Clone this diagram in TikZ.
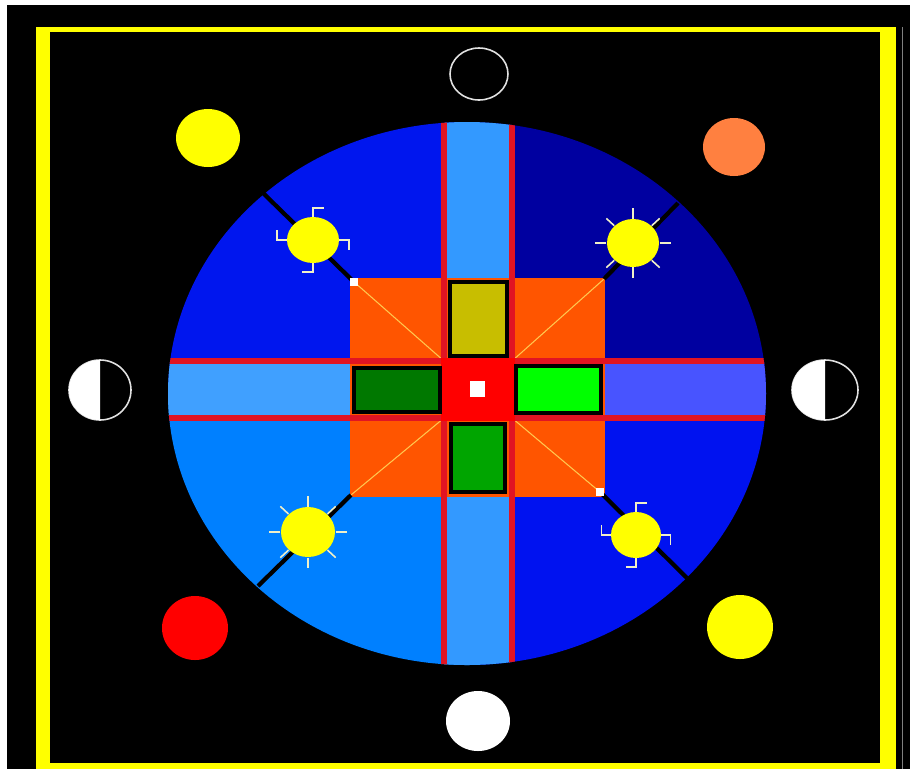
\documentclass[tikz,border=0pt]{standalone}
\usepackage{xcolor}
\usepackage{tikz}

\definecolor{frameyellow}{RGB}{255,255,0}
\definecolor{quadtl}{RGB}{0,22,238}
\definecolor{quadtr}{RGB}{0,0,160}
\definecolor{quadbl}{RGB}{0,128,255}
\definecolor{quadbr}{RGB}{0,18,240}
\definecolor{bandv}{RGB}{51,153,255}
\definecolor{bandl}{RGB}{64,160,255}
\definecolor{bandr}{RGB}{72,84,255}
\definecolor{crossred}{RGB}{225,20,35}
\definecolor{centrered}{RGB}{255,0,0}
\definecolor{tileorange}{RGB}{255,85,0}
\definecolor{rayorange}{RGB}{255,200,80}
\definecolor{tileolive}{RGB}{200,190,0}
\definecolor{leafdark}{RGB}{0,120,0}
\definecolor{leafbright}{RGB}{0,255,0}
\definecolor{leafmid}{RGB}{0,165,0}
\definecolor{sunline}{RGB}{240,240,200}
\definecolor{planetorange}{RGB}{255,128,64}
\definecolor{moonline}{RGB}{225,225,225}

\begin{document}
\begin{tikzpicture}[
    x=0.02cm,
    y=-0.02cm,
    cross/.style={
        draw=crossred,
        line width=3.4pt
    },
    ray/.style={
        draw=rayorange,
        line width=0.6pt
    },
    spoke/.style={
        draw=black,
        line width=2.4pt
    },
    panel/.style={
        draw=black,
        line width=2pt
    },
    sunmark/.style={
        draw=sunline,
        line width=0.9pt
    },
    moon/.style={
        draw=moonline,
        fill=black,
        line width=0.9pt
    },
    hooksun/.pic={
        \fill[frameyellow] (0,0) circle (1);
        \foreach \a in {0,90,180,270}
            \draw[sunmark, rotate=\a] (0,-1) -- (0,-1.38) -- (0.42,-1.38);
    },
    raysun/.pic={
        \fill[frameyellow] (0,0) circle (1);
        \foreach \a in {0,45,...,315}
            \draw[sunmark, rotate=\a] (0,-1.02) -- (0,-1.45);
    }
]

\useasboundingbox (0,0) rectangle (910,769);

% Background and frame
\fill[white] (0,0) rectangle (910,769);
\fill[black] (7,5) rectangle (910,769);
\fill[frameyellow] (36,27) rectangle (896,769);
\fill[black] (50,32) rectangle (880,763);
\draw[gray, line width=0.4pt] (902,27) -- (902,769);

% Corners
\coordinate (etl) at (263,193);
\coordinate (etr) at (678,203);
\coordinate (ebl) at (258,586);
\coordinate (ebr) at (687,578);
\coordinate (otl) at (353,281);
\coordinate (otr) at (604,279);
\coordinate (obl) at (351,495);
\coordinate (obr) at (600,492);
\coordinate (ctl) at (444,361);
\coordinate (ctr) at (512,361);
\coordinate (cbl) at (444,418);
\coordinate (cbr) at (512,418);

% Disc
\begin{scope}
\clip (467,393.5) ellipse [x radius=299, y radius=271.5];
\fill[quadtl] (160,115) rectangle (478,390);
\fill[quadtr] (478,115) rectangle (775,390);
\fill[quadbl] (160,390) rectangle (478,670);
\fill[quadbr] (478,390) rectangle (775,670);
\fill[bandv] (444,115) rectangle (512,670);
\fill[bandl] (160,361) rectangle (478,418);
\fill[bandr] (478,361) rectangle (775,418);
\fill[tileorange] (350,278) rectangle (605,497);
\draw[ray] (otl) -- (ctl);
\draw[ray] (otr) -- (ctr);
\draw[ray] (obl) -- (cbl);
\draw[ray] (obr) -- (cbr);
\draw[cross] (444,115) -- (444,670);
\draw[cross] (512,115) -- (512,670);
\draw[cross] (160,361) -- (775,361);
\draw[cross] (160,418) -- (775,418);
\end{scope}

% Centre
\fill[centrered] (441,358) rectangle (515,421);
\filldraw[panel, fill=tileolive] (450,282) rectangle (507,356);
\filldraw[panel, fill=leafdark] (354,368) rectangle (440,412);
\filldraw[panel, fill=leafbright] (516,366) rectangle (601,413);
\filldraw[panel, fill=leafmid] (451,424) rectangle (505,492);
\fill[white] (470,381) rectangle (485,397);

% Spokes
\draw[spoke] (etl) -- (otl);
\draw[spoke] (etr) -- (otr);
\draw[spoke] (ebl) -- (obl);
\draw[spoke] (ebr) -- (obr);
\fill[white] (350,278) rectangle (358,286);
\fill[white] (596,488) rectangle (604,496);

% Suns
\pic[xscale=26, yscale=23] at (313,240) {hooksun};
\pic[xscale=26, yscale=24] at (633,243) {raysun};
\pic[xscale=27, yscale=25] at (308,532) {raysun};
\pic[xscale=25, yscale=23] at (636,535) {hooksun};

% Moons
\draw[moon] (100,390) ellipse [x radius=31, y radius=30];
\fill[white] (100,420) arc[start angle=90, end angle=270, x radius=31, y radius=30] -- cycle;
\draw[moon] (825,390) ellipse [x radius=33, y radius=30];
\fill[white] (825,420) arc[start angle=90, end angle=270, x radius=33, y radius=30] -- cycle;
\draw[moon] (479,74) ellipse [x radius=29, y radius=26];

% Planets
\fill[frameyellow] (208,138) ellipse [x radius=32, y radius=29];
\fill[planetorange] (734,147) ellipse [x radius=31, y radius=29];
\fill[centrered] (195,628) ellipse [x radius=33, y radius=32];
\fill[frameyellow] (740,627) ellipse [x radius=33, y radius=32];
\fill[white] (478,721) ellipse [x radius=32, y radius=30];

\end{tikzpicture}
\end{document}
